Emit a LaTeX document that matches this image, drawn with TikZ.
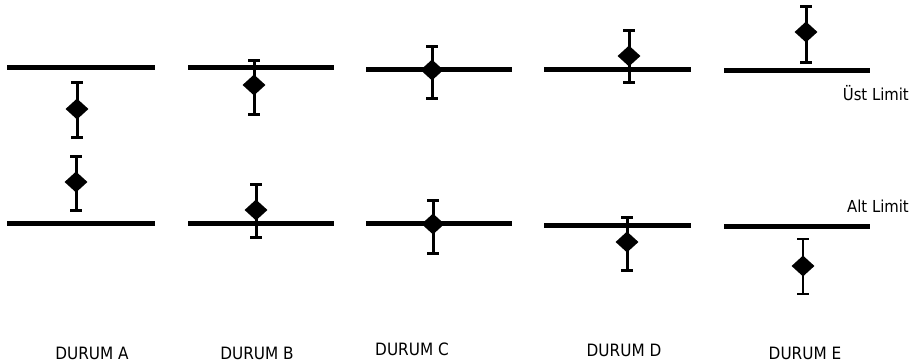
\documentclass[tikz,border=0pt]{standalone}
\usepackage{fontspec}
\setmainfont{DejaVu Sans Condensed}
\usetikzlibrary{shapes.geometric}
\tikzset{
  limitline/.style={line width=5pt},
  errbar/.style={line width=3pt},
  thinbar/.style={line width=2.2pt},
  point/.style={diamond, fill=black, inner sep=0pt, minimum width=23pt, minimum height=21pt},
  caselabel/.style={font=\fontsize{17}{20}\selectfont, inner sep=0pt, anchor=base},
  limitlabel/.style={font=\fontsize{16.5}{20}\selectfont, inner sep=0pt, anchor=base east}
}
% error bar: centre x, top y, bottom y, value y, style, name
\newcommand{\errmark}[6]{%
  \draw[#5] (#1,#2) -- (#1,#3);
  \draw[#5] (#1-6,#2) -- (#1+6,#2);
  \draw[#5] (#1-6,#3) -- (#1+6,#3);
  \node[point] (#6) at (#1,#4) {};
}
\begin{document}
\begin{tikzpicture}[x=1pt,y=-1pt]
  \useasboundingbox (0,0) rectangle (914,363);

  % upper limit lines
  \draw[limitline] (7,68) -- (155,68);
  \draw[limitline] (188,68) -- (334,68);
  \draw[limitline] (366,70) -- (512,70);
  \draw[limitline] (544,70) -- (691,70);
  \draw[limitline] (724,71) -- (870,71);

  % lower limit lines
  \draw[limitline] (7,224) -- (155,224);
  \draw[limitline] (188,224) -- (334,224);
  \draw[limitline] (366,224) -- (512,224);
  \draw[limitline] (544,226) -- (691,226);
  \draw[limitline] (724,227) -- (870,227);

  % measurements against the upper limit
  \errmark{77}{83}{138}{109}{errbar}{ua}
  \errmark{254}{61}{115}{85}{errbar}{ub}
  \errmark{432}{47}{99}{70}{errbar}{uc}
  \errmark{629}{31}{83}{56}{errbar}{ud}
  \errmark{806}{7}{63}{32}{errbar}{ue}

  % measurements against the lower limit
  \errmark{76}{157}{211}{182}{errbar}{la}
  \errmark{256}{185}{238}{210}{errbar}{lb}
  \errmark{433}{201}{254}{224}{errbar}{lc}
  \errmark{627}{218}{271}{242}{errbar}{ld}
  \errmark{803}{239}{294}{266}{thinbar}{le}

  % limit labels
  \node[limitlabel] (ust) at (909,101) {Üst Limit};
  \node[limitlabel] (alt) at (909,213) {Alt Limit};

  % case labels
  \node[caselabel] (da) at (92,360) {DURUM A};
  \node[caselabel] (db) at (257,360) {DURUM B};
  \node[caselabel] (dc) at (412,356) {DURUM C};
  \node[caselabel] (dd) at (624,357) {DURUM D};
  \node[caselabel] (de) at (805,360) {DURUM E};
\end{tikzpicture}
\end{document}
